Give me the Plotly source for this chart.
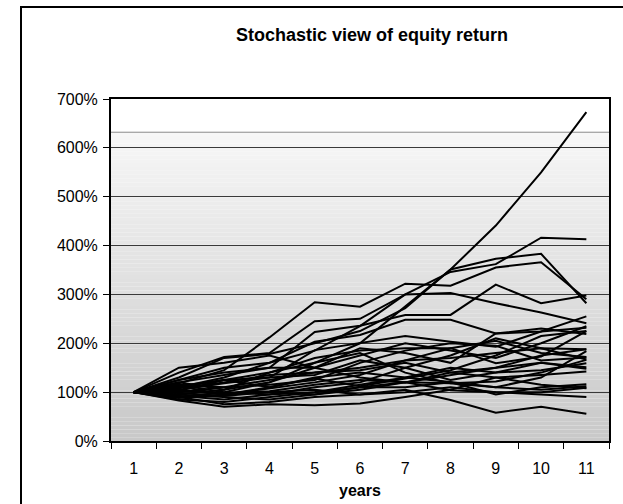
import plotly.graph_objects as go

years = list(range(1, 12))

series = [
    [100, 112, 125, 140, 160, 200, 275, 351, 441, 550, 673],
    [100, 125, 150, 160, 185, 235, 300, 346, 362, 416, 413],
    [100, 130, 170, 178, 200, 225, 272, 351, 373, 383, 282],
    [100, 118, 145, 212, 284, 275, 322, 318, 355, 366, 290],
    [100, 140, 172, 180, 245, 250, 300, 303, 282, 263, 241],
    [100, 120, 135, 150, 223, 236, 258, 258, 320, 282, 298],
    [100, 110, 130, 160, 203, 217, 248, 248, 220, 224, 255],
    [100, 105, 118, 130, 186, 200, 215, 203, 193, 224, 232],
    [100, 95, 105, 140, 170, 185, 190, 190, 159, 173, 225],
    [100, 90, 100, 120, 150, 190, 180, 160, 220, 230, 219],
    [100, 108, 120, 135, 140, 150, 165, 170, 180, 190, 188],
    [100, 88, 95, 110, 130, 140, 130, 121, 110, 130, 184],
    [100, 100, 110, 115, 125, 160, 185, 200, 195, 165, 171],
    [100, 92, 85, 95, 110, 120, 150, 175, 210, 190, 167],
    [100, 85, 80, 90, 100, 115, 130, 150, 140, 145, 159],
    [100, 98, 92, 100, 95, 105, 120, 140, 150, 160, 151],
    [100, 83, 70, 75, 73, 77, 90, 105, 130, 135, 142],
    [100, 95, 90, 85, 95, 110, 110, 120, 95, 110, 116],
    [100, 102, 98, 102, 115, 125, 120, 118, 110, 105, 112],
    [100, 115, 100, 95, 100, 110, 120, 104, 100, 100, 109],
    [100, 90, 75, 80, 90, 95, 105, 84, 58, 70, 56],
    [100, 105, 95, 100, 105, 95, 100, 110, 100, 95, 90],
    [100, 115, 110, 125, 140, 145, 160, 140, 130, 115, 108],
    [100, 110, 125, 130, 135, 165, 150, 125, 140, 160, 148],
    [100, 125, 140, 150, 150, 175, 200, 185, 170, 200, 235],
    [100, 150, 160, 175, 150, 130, 120, 135, 150, 175, 188],
    [100, 120, 105, 120, 160, 180, 140, 118, 122, 140, 166],
    [100, 103, 125, 110, 128, 112, 128, 145, 175, 215, 225],
    [100, 112, 95, 108, 120, 135, 165, 190, 205, 180, 172],
]

y_ticks = [0, 100, 200, 300, 400, 500, 600, 700]
y_ticktext = [f"{v}%" for v in y_ticks]

fig = go.Figure()
for s in series:
    fig.add_trace(go.Scatter(x=years, y=s, mode="lines",
                             line=dict(color="black", width=2),
                             showlegend=False, hoverinfo="skip"))

shapes = []
# gradient background (white on top, grey at bottom)
top_grad = 632
n = 80
for i in range(n):
    y0 = top_grad * i / n
    y1 = top_grad * (i + 1) / n
    t = (i + 0.5) / n  # 0 bottom, 1 top
    c = int(round(200 + (247 - 200) * t))
    shapes.append(dict(type="rect", xref="paper", yref="y", x0=0, x1=1, y0=y0, y1=y1,
                       fillcolor=f"rgb({c},{c},{c})", line=dict(width=0), layer="below"))
shapes.append(dict(type="rect", xref="paper", yref="y", x0=0, x1=1, y0=top_grad, y1=700,
                   fillcolor="white", line=dict(width=0), layer="below"))
shapes.append(dict(type="line", xref="paper", yref="y", x0=0, x1=1, y0=top_grad, y1=top_grad,
                   line=dict(color="#8a8a8a", width=1), layer="below"))
# outer chart frame
shapes.append(dict(type="rect", xref="paper", yref="paper",
                   x0=(21 - 111) / 498, x1=(640 - 111) / 498,
                   y0=-(520 - 441) / 342, y1=(441 - 7) / 342,
                   line=dict(color="black", width=2), fillcolor="rgba(0,0,0,0)", layer="above"))

font = "Liberation Sans, Arial, sans-serif"

fig.update_layout(
    width=623, height=504,
    margin=dict(l=111, r=14, t=99, b=63),
    paper_bgcolor="white", plot_bgcolor="white",
    shapes=shapes,
    font=dict(family=font, size=16, color="black"),
    annotations=[
        dict(text="<b>Stochastic view of equity return</b>", xref="paper", yref="paper",
             x=(372 - 111) / 498, y=(441 - 35) / 342, showarrow=False,
             xanchor="center", yanchor="middle", font=dict(size=18, family=font)),
        dict(text="<b>years</b>", xref="paper", yref="paper",
             x=0.5, y=-(490 - 441) / 342, showarrow=False,
             xanchor="center", yanchor="middle", font=dict(size=16, family=font)),
    ],
    xaxis=dict(range=[0.5, 11.5], tickmode="array", tickvals=years,
               ticktext=[str(v) for v in years], ticks="", showgrid=False,
               zeroline=False, showline=True, linecolor="black", linewidth=2, mirror=True,
               ticklabelstandoff=12, tickfont=dict(size=16),
               minor=dict(tick0=0.5, dtick=1, ticks="outside", ticklen=6,
                          tickcolor="black", tickwidth=1, showgrid=False)),
    yaxis=dict(range=[0, 700], tickmode="array", tickvals=y_ticks, ticktext=y_ticktext,
               ticks="outside", ticklen=6, tickcolor="black", showgrid=True,
               tickfont=dict(size=16), ticklabelstandoff=2,
               gridcolor="#3a3a3a", gridwidth=1, zeroline=False,
               showline=True, linecolor="black", linewidth=2, mirror=True),
)

fig.write_html("out.html", config={"displayModeBar": False},
               post_script="document.body.style.margin='0';")
